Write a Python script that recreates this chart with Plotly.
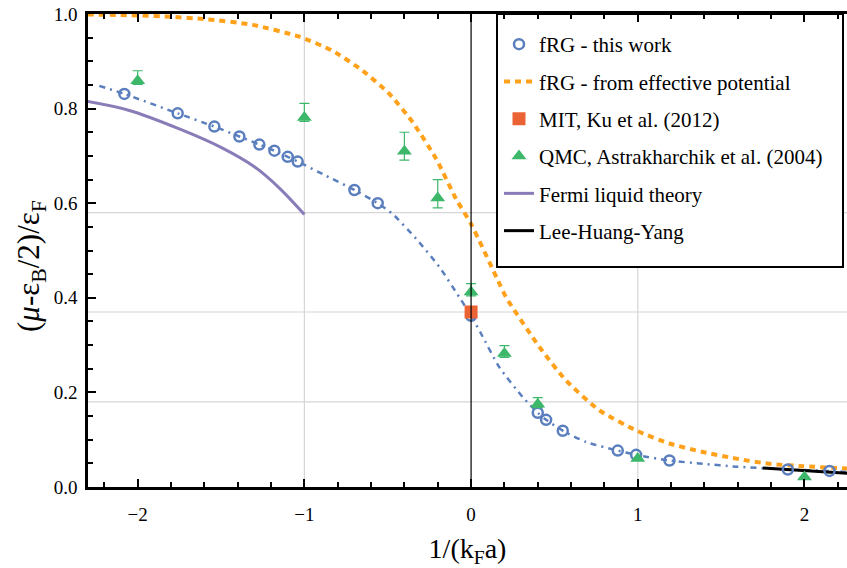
import plotly.graph_objects as go

# ---------------- data ----------------
# fRG - this work (open circles)
frg_x = [-2.08, -1.76, -1.54, -1.39, -1.27, -1.18, -1.10, -1.04, -0.70, -0.56,
         0.0, 0.40, 0.45, 0.55, 0.88, 0.99, 1.19, 1.90, 2.15]
frg_y = [0.831, 0.790, 0.762, 0.741, 0.724, 0.711, 0.698, 0.688, 0.628, 0.600,
         0.362, 0.157, 0.142, 0.119, 0.077, 0.068, 0.056, 0.037, 0.034]

# dash-dot curve through the fRG points
fit_x = [-2.23, -2.08, -1.76, -1.54, -1.39, -1.27, -1.18, -1.10, -1.04, -0.87,
         -0.70, -0.56, -0.47, -0.33, -0.19, -0.07, 0.0, 0.06, 0.17, 0.31,
         0.40, 0.45, 0.55, 0.69, 0.88, 0.99, 1.19, 1.39, 1.59, 1.90, 2.15, 2.26]
fit_y = [0.848, 0.831, 0.790, 0.762, 0.741, 0.724, 0.711, 0.698, 0.688, 0.658,
         0.628, 0.600, 0.577, 0.525, 0.465, 0.401, 0.362, 0.324, 0.253, 0.190,
         0.157, 0.142, 0.119, 0.095, 0.077, 0.068, 0.056, 0.049, 0.043, 0.037, 0.034, 0.032]

# fRG - from effective potential
eff_x = [-2.30, -2.0, -1.8, -1.59, -1.31, -1.03, -0.83, -0.65, -0.49, -0.35,
         -0.21, -0.09, 0.0, 0.17, 0.21, 0.41, 0.57, 0.77, 1.0, 1.19, 1.39,
         1.59, 1.79, 1.99, 2.26]
eff_y = [0.999, 0.997, 0.994, 0.989, 0.977, 0.952, 0.922, 0.880, 0.831, 0.771,
         0.694, 0.609, 0.556, 0.430, 0.401, 0.296, 0.225, 0.162, 0.118, 0.092,
         0.074, 0.060, 0.049, 0.044, 0.039]

# MIT, Ku et al. (2012)
mit_x = [0.0]
mit_y = [0.37]

# QMC, Astrakharchik et al. (2004)
qmc_x = [-2.0, -1.0, -0.4, -0.2, 0.0, 0.2, 0.4, 1.0, 2.0]
qmc_y = [0.859, 0.781, 0.710, 0.611, 0.412, 0.282, 0.175, 0.060, 0.021]
qmc_err_plus = [0.021, 0.030, 0.040, 0.039, 0.018, 0.017, 0.014, 0.0, 0.0]
qmc_err_minus = [0.008, 0.008, 0.019, 0.021, 0.008, 0.008, 0.007, 0.0, 0.0]

# Fermi liquid theory
fl_x = [-2.30, -2.05, -1.75, -1.50, -1.30, -1.15, -1.00]
fl_y = [0.815, 0.796, 0.757, 0.718, 0.677, 0.632, 0.576]

# Lee-Huang-Yang
lhy_x = [1.75, 2.0, 2.26]
lhy_y = [0.040, 0.035, 0.029]

# reference lines of the frame
grid_y = [0.18, 0.37, 0.58]
grid_x = [-1, 1]
x_ticks = [-2, -1, 0, 1, 2]
y_ticks = [0.0, 0.2, 0.4, 0.6, 0.8, 1.0]

x_title = "1/(k<sub>F</sub>a)"
y_title = "(<i>μ</i>-ε<sub>B</sub>/2)/ε<sub>F</sub>"

# ---------------- styling ----------------
FONT = "Liberation Serif"
BLUE = "#5B7FBE"
ORANGE = "#FFA11A"
RED = "#EB6234"
GREEN = "#3DB86A"
PURPLE = "#8A7CB8"

W, H = 847, 568
ML, MR, MT, MB = 88, 0, 14, 81
PW, PH = W - ML - MR, H - MT - MB


def px_x(p):
    return (p - ML) / PW


def px_y(p):
    return (H - MB - p) / PH


fig = go.Figure()

fig.add_trace(go.Scatter(
    x=fit_x, y=fit_y, mode="lines", showlegend=False, hoverinfo="skip",
    line=dict(color=BLUE, width=2.5, dash="6px,5px,2px,5px", shape="spline", smoothing=0.6)))

fig.add_trace(go.Scatter(
    x=eff_x, y=eff_y, mode="lines", name="fRG - from effective potential",
    legendgroup="g2", legendrank=2,
    line=dict(color=ORANGE, width=4, dash="6px,5px", shape="spline", smoothing=0.6)))

fig.add_trace(go.Scatter(
    x=fl_x, y=fl_y, mode="lines", name="Fermi liquid theory",
    legendgroup="g5", legendrank=5,
    line=dict(color=PURPLE, width=3, shape="spline", smoothing=1.0)))

fig.add_trace(go.Scatter(
    x=lhy_x, y=lhy_y, mode="lines", name="Lee-Huang-Yang",
    legendgroup="g6", legendrank=6,
    line=dict(color="black", width=3)))

fig.add_trace(go.Scatter(
    x=frg_x, y=frg_y, mode="markers", name="fRG - this work",
    legendgroup="g1", legendrank=1,
    marker=dict(symbol="circle-open", size=10, color=BLUE, line=dict(width=2.5, color=BLUE))))

fig.add_trace(go.Scatter(
    x=mit_x, y=mit_y, mode="markers", name="MIT, Ku et al. (2012)",
    legendgroup="g3", legendrank=3,
    marker=dict(symbol="square", size=13, color=RED)))

fig.add_trace(go.Scatter(
    x=qmc_x, y=qmc_y, mode="markers", name="QMC, Astrakharchik et al. (2004)",
    legendgroup="g4", legendrank=4,
    marker=dict(symbol="triangle-up", size=13, color=GREEN),
    error_y=dict(type="data", symmetric=False, array=qmc_err_plus,
                 arrayminus=qmc_err_minus, color=GREEN, thickness=1.2, width=5)))

shapes = []
for gy in grid_y:
    shapes.append(dict(type="line", xref="paper", x0=0, x1=1, yref="y", y0=gy, y1=gy,
                       line=dict(color="#D6D6D6", width=1.2), layer="below"))
for gx in grid_x:
    shapes.append(dict(type="line", yref="paper", y0=0, y1=1, xref="x", x0=gx, x1=gx,
                       line=dict(color="#D6D6D6", width=1.2), layer="below"))
# legend frame
shapes.append(dict(type="rect", xref="paper", yref="paper",
                   x0=px_x(497), x1=px_x(843), y0=px_y(267), y1=1.0,
                   fillcolor="white", line=dict(color="black", width=2), layer="below"))
shapes.append(dict(type="line", yref="paper", y0=0, y1=1, xref="x", x0=0, x1=0,
                   line=dict(color="black", width=1.2), layer="above"))

fig.update_layout(
    width=W, height=H,
    margin=dict(l=ML, r=MR, t=MT, b=MB, autoexpand=False),
    paper_bgcolor="white", plot_bgcolor="white",
    font=dict(family=FONT, size=19, color="black"),
    shapes=shapes,
    showlegend=True,
    legend=dict(
        x=px_x(499), y=px_y(24), xanchor="left", yanchor="top",
        bgcolor="rgba(0,0,0,0)", borderwidth=0,
        font=dict(family=FONT, size=21, color="black"),
        tracegroupgap=7, traceorder="grouped",
    ),
    annotations=[dict(
        text=y_title, xref="paper", yref="paper", x=px_x(31), y=px_y(266),
        xanchor="center", yanchor="middle", textangle=-90, showarrow=False,
        font=dict(family=FONT, size=31, color="black"))],
    xaxis=dict(
        range=[-2.298, 2.255], tickvals=x_ticks, ticks="inside", ticklen=8, tickwidth=2,
        tickcolor="black", showline=True, linecolor="black", linewidth=2.5,
        mirror="ticks", showgrid=False, zeroline=False, automargin=False,
        ticklabelstandoff=8,
        minor=dict(ticks="inside", ticklen=5, tickwidth=1.5, dtick=0.2, tick0=0,
                   tickcolor="black", showgrid=False),
        title=dict(text=x_title, font=dict(size=28), standoff=17),
    ),
    yaxis=dict(
        range=[0, 1.0], tickvals=y_ticks, tickformat=".1f", ticks="inside", ticklen=8,
        tickwidth=2, tickcolor="black", showline=True, linecolor="black", linewidth=2.5,
        showgrid=False, zeroline=False, ticklabelstandoff=4, automargin=False,
        minor=dict(ticks="inside", ticklen=5, tickwidth=1.5, dtick=0.05, tick0=0,
                   tickcolor="black", showgrid=False),
    ),
)

fig.write_html("out.html", config={"displayModeBar": False},
               post_script="document.body.style.margin='0px';document.body.style.overflow='hidden';")
